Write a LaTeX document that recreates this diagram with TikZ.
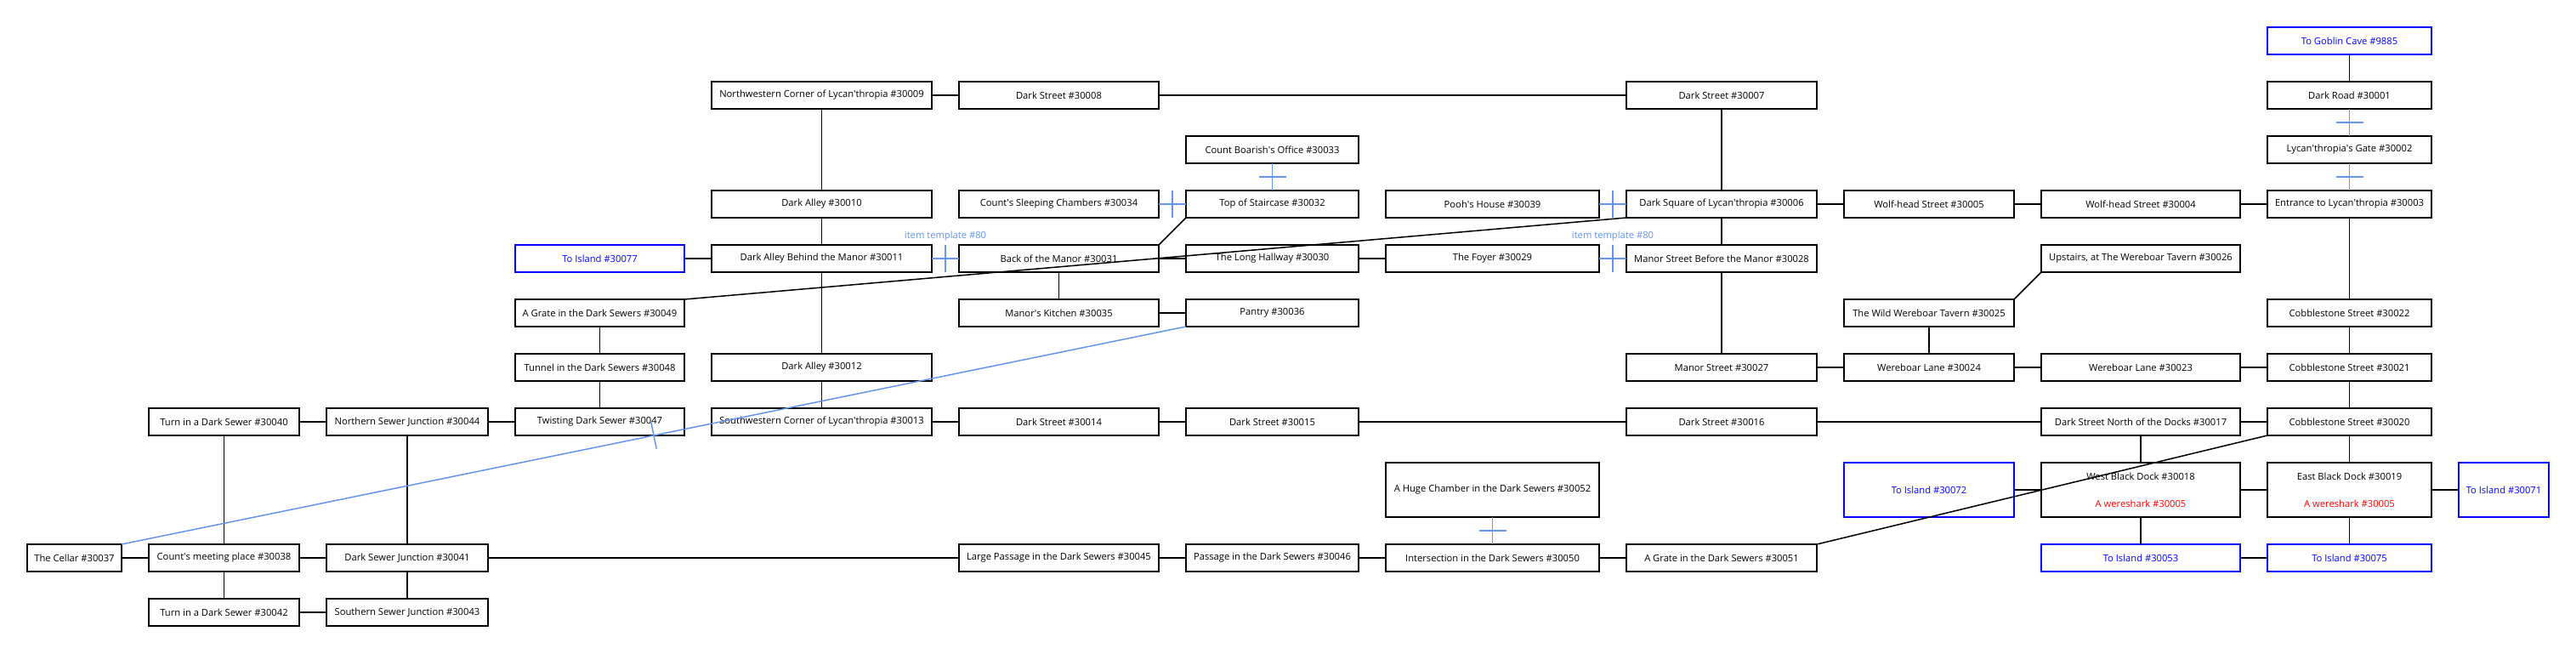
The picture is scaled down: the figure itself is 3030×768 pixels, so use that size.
\documentclass[tikz,border=0pt]{standalone}
\usepackage{fontspec}
\setmainfont{Open Sans}
\usetikzlibrary{calc}
\definecolor{lockblue}{HTML}{6495ED}
\definecolor{exitblue}{HTML}{0000FF}
\definecolor{mobred}{HTML}{FF0000}
\newcommand\ap{\textquotesingle}
\newcommand\lockedge[2]{%
  \draw[lockc] (#1) -- (#2) coordinate[pos=0.5] (tmpm);
  \draw[lockc] ($(tmpm)!16bp!90:(#2)$) -- ($(tmpm)!16bp!-90:(#2)$);}
\begin{document}
\begin{tikzpicture}[x=1bp,y=-1bp,
  room/.style={draw=black, line width=2bp, minimum height=32bp, inner sep=0pt, outer sep=0pt,
     align=center, font=\fontsize{11.2bp}{13.5bp}\selectfont},
  exitbox/.style={room, draw=exitblue, text=exitblue},
  tall/.style={minimum height=64bp},
  conn/.style={draw=black, line width=1.5bp},
  lockc/.style={draw=lockblue, line width=1.5bp},
  locklabel/.style={text=lockblue, inner sep=0pt, font=\fontsize{11.2bp}{13.5bp}\selectfont}]
\fill[white] (0,0) rectangle (3030,768);
\useasboundingbox (0,0) rectangle (3030,768);
% Row 0
\node[exitbox, minimum width=193bp] (g9885) at (2763.5,48) {To Goblin Cave \#9885};
% Row 1
\node[room, minimum width=259bp] (r30009) at (966.5,112) {Northwestern Corner of Lycan\ap thropia \#30009};
\node[room, minimum width=235bp] (r30008) at (1245.5,112) {Dark Street \#30008};
\node[room, minimum width=224bp] (r30007) at (2025,112) {Dark Street \#30007};
\node[room, minimum width=193bp] (r30001) at (2763.5,112) {Dark Road \#30001};
% Row 2
\node[room, minimum width=203bp] (r30033) at (1496.5,176) {Count Boarish\ap s Office \#30033};
\node[room, minimum width=193bp] (r30002) at (2763.5,176) {Lycan\ap thropia\ap s Gate \#30002};
% Row 3
\node[room, minimum width=259bp] (r30010) at (966.5,240) {Dark Alley \#30010};
\node[room, minimum width=235bp] (r30034) at (1245.5,240) {Count\ap s Sleeping Chambers \#30034};
\node[room, minimum width=203bp] (r30032) at (1496.5,240) {Top of Staircase \#30032};
\node[room, minimum width=251bp] (r30039) at (1755.5,240) {Pooh\ap s House \#30039};
\node[room, minimum width=224bp] (r30006) at (2025,240) {Dark Square of Lycan\ap thropia \#30006};
\node[room, minimum width=200bp] (r30005) at (2269,240) {Wolf-head Street \#30005};
\node[room, minimum width=234bp] (r30004) at (2518,240) {Wolf-head Street \#30004};
\node[room, minimum width=193bp] (r30003) at (2763.5,240) {Entrance to Lycan\ap thropia \#30003};
% Row 4
\node[exitbox, minimum width=199bp] (x30077) at (705.5,304) {To Island \#30077};
\node[room, minimum width=259bp] (r30011) at (966.5,304) {Dark Alley Behind the Manor \#30011};
\node[room, minimum width=235bp] (r30031) at (1245.5,304) {Back of the Manor \#30031};
\node[room, minimum width=203bp] (r30030) at (1496.5,304) {The Long Hallway \#30030};
\node[room, minimum width=251bp] (r30029) at (1755.5,304) {The Foyer \#30029};
\node[room, minimum width=224bp] (r30028) at (2025,304) {Manor Street Before the Manor \#30028};
\node[room, minimum width=234bp] (r30026) at (2518,304) {Upstairs, at The Wereboar Tavern \#30026};
% Row 5
\node[room, minimum width=199bp] (r30049) at (705.5,368) {A Grate in the Dark Sewers \#30049};
\node[room, minimum width=235bp] (r30035) at (1245.5,368) {Manor\ap s Kitchen \#30035};
\node[room, minimum width=203bp] (r30036) at (1496.5,368) {Pantry \#30036};
\node[room, minimum width=200bp] (r30025) at (2269,368) {The Wild Wereboar Tavern \#30025};
\node[room, minimum width=193bp] (r30022) at (2763.5,368) {Cobblestone Street \#30022};
% Row 6
\node[room, minimum width=199bp] (r30048) at (705.5,432) {Tunnel in the Dark Sewers \#30048};
\node[room, minimum width=259bp] (r30012) at (966.5,432) {Dark Alley \#30012};
\node[room, minimum width=224bp] (r30027) at (2025,432) {Manor Street \#30027};
\node[room, minimum width=200bp] (r30024) at (2269,432) {Wereboar Lane \#30024};
\node[room, minimum width=234bp] (r30023) at (2518,432) {Wereboar Lane \#30023};
\node[room, minimum width=193bp] (r30021) at (2763.5,432) {Cobblestone Street \#30021};
% Row 7
\node[room, minimum width=177bp] (r30040) at (263.5,496) {Turn in a Dark Sewer \#30040};
\node[room, minimum width=190bp] (r30044) at (479,496) {Northern Sewer Junction \#30044};
\node[room, minimum width=199bp] (r30047) at (705.5,496) {Twisting Dark Sewer \#30047};
\node[room, minimum width=259bp] (r30013) at (966.5,496) {Southwestern Corner of Lycan\ap thropia \#30013};
\node[room, minimum width=235bp] (r30014) at (1245.5,496) {Dark Street \#30014};
\node[room, minimum width=203bp] (r30015) at (1496.5,496) {Dark Street \#30015};
\node[room, minimum width=224bp] (r30016) at (2025,496) {Dark Street \#30016};
\node[room, minimum width=234bp] (r30017) at (2518,496) {Dark Street North of the Docks \#30017};
\node[room, minimum width=193bp] (r30020) at (2763.5,496) {Cobblestone Street \#30020};
% Row 8 (tall)
\node[room, tall, minimum width=251bp] (r30052) at (1755.5,576) {A Huge Chamber in the Dark Sewers \#30052};
\node[exitbox, tall, minimum width=200bp] (x30072) at (2269,576) {To Island \#30072};
\node[room, tall, minimum width=234bp] (r30018) at (2518,576) {West Black Dock \#30018\\[18.5bp]\textcolor{mobred}{A wereshark \#30005}};
\node[room, tall, minimum width=193bp] (r30019) at (2763.5,576) {East Black Dock \#30019\\[18.5bp]\textcolor{mobred}{A wereshark \#30005}};
\node[exitbox, tall, minimum width=106bp] (x30071) at (2945,576) {To Island \#30071};
% Row 9
\node[room, minimum width=111bp] (r30037) at (87.5,656) {The Cellar \#30037};
\node[room, minimum width=177bp] (r30038) at (263.5,656) {Count\ap s meeting place \#30038};
\node[room, minimum width=190bp] (r30041) at (479,656) {Dark Sewer Junction \#30041};
\node[room, minimum width=235bp] (r30045) at (1245.5,656) {Large Passage in the Dark Sewers \#30045};
\node[room, minimum width=203bp] (r30046) at (1496.5,656) {Passage in the Dark Sewers \#30046};
\node[room, minimum width=251bp] (r30050) at (1755.5,656) {Intersection in the Dark Sewers \#30050};
\node[room, minimum width=224bp] (r30051) at (2025,656) {A Grate in the Dark Sewers \#30051};
\node[exitbox, minimum width=234bp] (x30053) at (2518,656) {To Island \#30053};
\node[exitbox, minimum width=193bp] (x30075) at (2763.5,656) {To Island \#30075};
% Row 10
\node[room, minimum width=177bp] (r30042) at (263.5,720) {Turn in a Dark Sewer \#30042};
\node[room, minimum width=190bp] (r30043) at (479,720) {Southern Sewer Junction \#30043};

% plain connectors
\draw[conn] (g9885) -- (r30001);
\draw[conn] (r30009) -- (r30008);
\draw[conn] (r30008) -- (r30007);
\draw[conn] (r30007) -- (r30006);
\draw[conn] (r30009) -- (r30010);
\draw[conn] (r30010) -- (r30011);
\draw[conn] (x30077) -- (r30011);
\draw[conn] (r30011) -- (r30012);
\draw[conn] (r30012) -- (r30013);
\draw[conn] (r30032.south west) -- (r30031.north east);
\draw[conn] (r30031) -- (r30030);
\draw[conn] (r30031) -- (r30035);
\draw[conn] (r30035) -- (r30036);
\draw[conn] (r30006.south west) -- (r30049.north east);
\draw[conn] (r30030) -- (r30029);
\draw[conn] (r30006) -- (r30005);
\draw[conn] (r30005) -- (r30004);
\draw[conn] (r30004) -- (r30003);
\draw[conn] (r30006) -- (r30028);
\draw[conn] (r30028) -- (r30027);
\draw[conn] (r30027) -- (r30024);
\draw[conn] (r30024) -- (r30025);
\draw[conn] (r30025.north east) -- (r30026.south west);
\draw[conn] (r30024) -- (r30023);
\draw[conn] (r30023) -- (r30021);
\draw[conn] (r30003) -- (r30022);
\draw[conn] (r30022) -- (r30021);
\draw[conn] (r30021) -- (r30020);
\draw[conn] (r30049) -- (r30048);
\draw[conn] (r30048) -- (r30047);
\draw[conn] (r30040) -- (r30044);
\draw[conn] (r30044) -- (r30047);
\draw[conn] (r30040) -- (r30038);
\draw[conn] (r30044) -- (r30041);
\draw[conn] (r30013) -- (r30014);
\draw[conn] (r30014) -- (r30015);
\draw[conn] (r30015) -- (r30016);
\draw[conn] (r30016) -- (r30017);
\draw[conn] (r30017) -- (r30020);
\draw[conn] (r30017) -- (r30018);
\draw[conn] (r30020) -- (r30019);
\draw[conn] (r30020.south west) -- (r30051.north east);
\draw[conn] (x30072) -- (r30018);
\draw[conn] (r30018) -- (r30019);
\draw[conn] (r30019) -- (x30071);
\draw[conn] (r30018) -- (x30053);
\draw[conn] (r30019) -- (x30075);
\draw[conn] (x30053) -- (x30075);
\draw[conn] (r30037) -- (r30038);
\draw[conn] (r30038) -- (r30041);
\draw[conn] (r30041) -- (r30045);
\draw[conn] (r30045) -- (r30046);
\draw[conn] (r30046) -- (r30050);
\draw[conn] (r30050) -- (r30051);
\draw[conn] (r30038) -- (r30042);
\draw[conn] (r30041) -- (r30043);
\draw[conn] (r30042) -- (r30043);

% locked (item template) connectors
\lockedge{r30001}{r30002}
\lockedge{r30002}{r30003}
\lockedge{r30033}{r30032}
\lockedge{r30034}{r30032}
\lockedge{r30039}{r30006}
\lockedge{r30011}{r30031}
\lockedge{r30029}{r30028}
\lockedge{r30052}{r30050}
\lockedge{r30036.south west}{r30037.north east}
\node[locklabel] (lab1) at (1112,278) {item template \#80};
\node[locklabel] (lab2) at (1897,278) {item template \#80};
\end{tikzpicture}
\end{document}
